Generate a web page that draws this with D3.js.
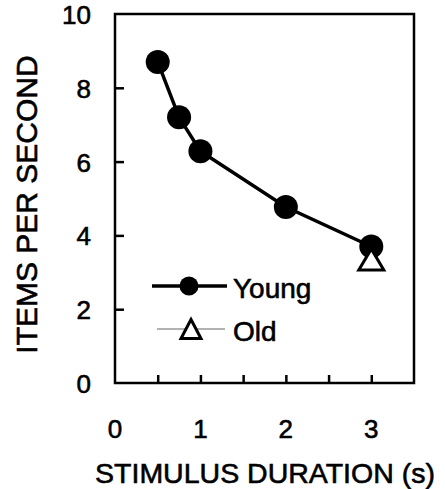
<!DOCTYPE html>
<html><head><meta charset="utf-8">
<script src="https://cdn.jsdelivr.net/npm/d3@7"></script>
<style>body{margin:0;background:#fff}svg{display:block}text{font-family:"Liberation Sans",Arial,sans-serif;fill:#000;stroke:#000;stroke-width:0.6px}</style>
</head><body>
<svg id="c" width="445" height="489"></svg>
<script>
const youngX = [0.5, 0.75, 1, 2, 3];
const youngY = [8.7, 7.2, 6.28, 4.77, 3.7];
const oldX = [3];
const oldY = [3.35];
const xTickLabels = [0, 1, 2, 3];
const yTickLabels = [0, 2, 4, 6, 8, 10];
const xMinorTicks = [0.5, 1, 1.5, 2, 2.5, 3];
const yInnerTicks = [2, 4, 6, 8];
const seriesNames = ["Young", "Old"];

const svg = d3.select("#c");
const L = 115, R = 414, T = 14, B = 383;
const x = d3.scaleLinear().domain([0, 3.5]).range([L, R]);
const y = d3.scaleLinear().domain([0, 10]).range([B, T]);

// inner ticks
const xAxis = d3.axisTop(x).tickValues(xMinorTicks).tickSize(8).tickFormat("");
const gx = svg.append("g").attr("transform", `translate(0,${B})`).call(xAxis);
gx.select(".domain").remove();
gx.selectAll("line").attr("stroke", "#000").attr("stroke-width", 2.5);

const yAxis = d3.axisRight(y).tickValues(yInnerTicks).tickSize(9).tickFormat("");
const gy = svg.append("g").attr("transform", `translate(${L},0)`).call(yAxis);
gy.select(".domain").remove();
gy.selectAll("line").attr("stroke", "#000").attr("stroke-width", 2.5);

// frame
svg.append("rect").attr("x", L).attr("y", T).attr("width", R - L).attr("height", B - T)
  .attr("fill", "none").attr("stroke", "#000").attr("stroke-width", 2.5);

// tick labels
svg.append("g").selectAll("text").data(xTickLabels).join("text")
  .attr("x", d => x(d)).attr("y", 438).attr("text-anchor", "middle")
  .attr("font-size", 26).text(d => d);
svg.append("g").selectAll("text").data(yTickLabels).join("text")
  .attr("x", 91).attr("y", d => y(d) + 10).attr("text-anchor", "end")
  .attr("font-size", 26).text(d => d);

// axis titles
svg.append("text").attr("x", 265).attr("y", 483).attr("text-anchor", "middle")
  .attr("font-size", 28.5).text("STIMULUS DURATION (s)");
svg.append("text").attr("transform", `translate(37,${(T + B) / 2 + 6}) rotate(-90)`)
  .attr("text-anchor", "middle").attr("font-size", 30).text("ITEMS PER SECOND");

// young line & markers
const pts = youngX.map((d, i) => [d, youngY[i]]);
svg.append("path").datum(pts)
  .attr("d", d3.line().x(d => x(d[0])).y(d => y(d[1])))
  .attr("fill", "none").attr("stroke", "#000").attr("stroke-width", 3.5);
svg.append("g").selectAll("circle").data(pts).join("circle")
  .attr("cx", d => x(d[0])).attr("cy", d => y(d[1])).attr("r", 12).attr("fill", "#000");

// old markers
const tri = (cx, cy, w, h) => `M${cx},${cy - h / 2}L${cx + w / 2},${cy + h / 2}L${cx - w / 2},${cy + h / 2}Z`;
svg.append("g").selectAll("path").data(oldX.map((d, i) => [d, oldY[i]])).join("path")
  .attr("d", d => tri(x(d[0]), y(d[1]), 25, 21))
  .attr("fill", "#fff").attr("stroke", "#000").attr("stroke-width", 3).attr("stroke-linejoin", "miter");

// legend
const lg = svg.append("g");
lg.append("line").attr("x1", 152).attr("x2", 227).attr("y1", 286).attr("y2", 286)
  .attr("stroke", "#000").attr("stroke-width", 3.5);
lg.append("circle").attr("cx", 189).attr("cy", 286).attr("r", 9.5).attr("fill", "#000");
lg.append("text").attr("x", 233).attr("y", 298).attr("font-size", 28).text(seriesNames[0]);
lg.append("line").attr("x1", 157).attr("x2", 225).attr("y1", 329).attr("y2", 329)
  .attr("stroke", "#666").attr("stroke-width", 1.2);
lg.append("path").attr("d", tri(191, 329, 20, 19))
  .attr("fill", "#fff").attr("stroke", "#000").attr("stroke-width", 3);
lg.append("text").attr("x", 233).attr("y", 341).attr("font-size", 28).text(seriesNames[1]);
</script>
</body></html>
